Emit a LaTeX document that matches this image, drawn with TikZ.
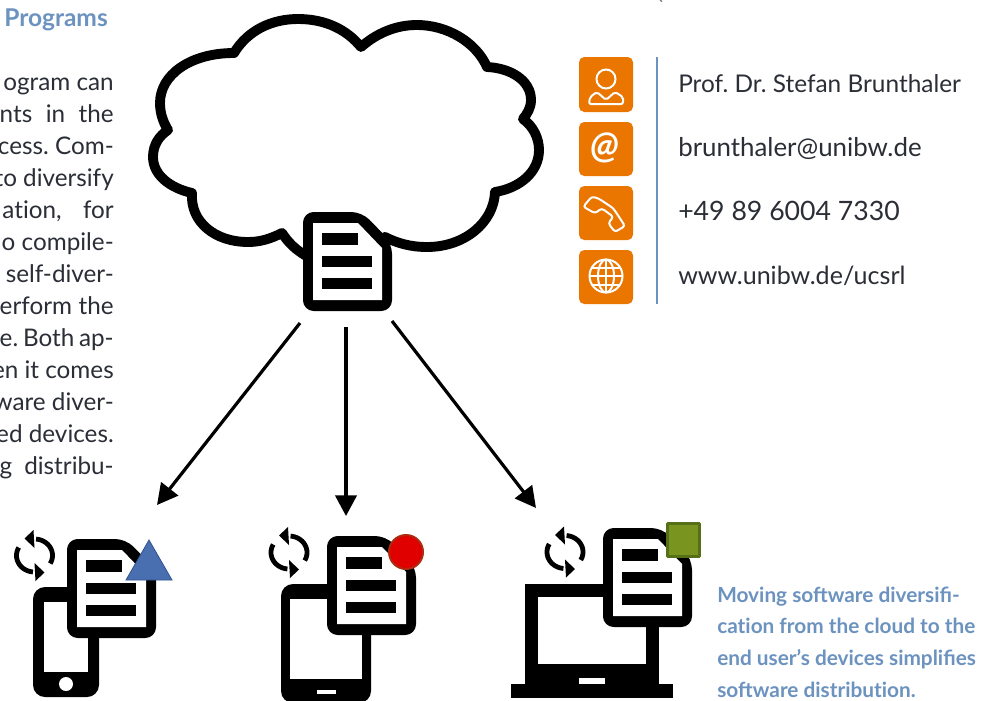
\documentclass[tikz,border=0pt]{standalone}
\usepackage{fontspec}
\setmainfont{Lato}
\usetikzlibrary{arrows.meta}
\definecolor{inkgrey}{HTML}{2B2E36}
\definecolor{uniblue}{HTML}{6C93BF}
\definecolor{uniorange}{HTML}{EA7600}
\newcommand\nolig{\kern0pt }
\tikzset{
  cloudline/.style={line width=7.4pt,line join=round,draw=black},
  flow/.style={line width=2.4pt,-{Triangle[length=15.5pt,width=16pt]}},
  tile/.style={fill=uniorange,rounded corners=4pt},
  glyph/.style={draw=white,line width=1.5pt},
  bodytext/.style={inner sep=0pt,anchor=base east,text=inkgrey,font=\fontsize{18.2}{20}\selectfont\frenchspacing},
  contact/.style={inner sep=0pt,anchor=base west,text=inkgrey,font=\fontsize{19.4}{23}\selectfont\frenchspacing},
  caption/.style={inner sep=0pt,anchor=base west,text=uniblue,font=\fontsize{15.6}{18}\selectfont\bfseries},
  docicon/.pic={
    \fill[rounded corners=8pt] (0,0) -- (59,0) -- (89,31) -- (89,99) -- (0,99) -- cycle;
    \fill[white] (10,11) -- (55,11) -- (79,36) -- (79,88) -- (10,88) -- cycle;
    \fill (19,21) rectangle (55,33);
    \fill (19,44) rectangle (69,55);
    \fill (19,66) rectangle (69,77);
  },
  syncicon/.pic={
    \draw[line width=3.6pt] plot[domain=29:-85,samples=30] ({18*cos(\x)},{16.5*sin(\x)});
    \draw[line width=3.6pt] plot[domain=209:95,samples=30] ({18*cos(\x)},{16.5*sin(\x)});
    \fill (-10,-17) -- (-1,-25.5) -- (0,-7.5) -- cycle;
    \fill (10,17) -- (1,25.5) -- (0,7.5) -- cycle;
  },
}
\begin{document}
\begin{tikzpicture}[x=0.75pt,y=-0.75pt]
\useasboundingbox (0,0) rectangle (984,700);
\clip (0,0) rectangle (984,700);
\fill[white] (0,0) rectangle (984,700);

% left column
\node[inner sep=0pt,anchor=base west,text=uniblue,font=\fontsize{18.4}{20}\selectfont\bfseries] (head) at (4,26) {Programs};
\foreach \i/\t in {
  1/{\hss ogram can},
  2/{nts\hfill in\hfill the},
  3/{\hss cess. Com-},
  4/{\hss to diversify},
  5/{\hspace{2pt}at\nolig ion,\hfill for},
  6/{\hss o compile-},
  7/{\hss self-diver-},
  8/{erform\hss\hfill the},
  9/{e.\hfill Both\hfill ap-},
  10/{\hss en it comes},
  11/{\hss ware diver-},
  12/{\hss ed devices.},
  13/{g\hfill distribu-}}{
  \pgfmathsetmacro{\yy}{58+32*\i}
  \node[bodytext] (line\i) at (114,\yy) {\hbox to 85.5pt{\t}};
}

% cloud
\draw[cloudline] (234,53)
  .. controls (248,30) and (272,19) .. (298,19)
  .. controls (326,19) and (347,30) .. (361,47)
  .. controls (377,33) and (396,25) .. (417,25)
  .. controls (447,25) and (476,42) .. (487,67)
  .. controls (510,68) and (531,80) .. (531,100)
  .. controls (531,108) and (527,114) .. (523,119)
  .. controls (533,126) and (539,138) .. (539,150)
  .. controls (539,172) and (520,188) .. (495,192)
  .. controls (494,222) and (465,247) .. (427,247)
  .. controls (410,247) and (397,243) .. (385,237)
  -- (350,265) -- (310,258)
  .. controls (295,250) and (288,242) .. (282,233)
  .. controls (270,239) and (260,242) .. (248,242)
  .. controls (215,242) and (190,222) .. (192,193)
  .. controls (170,188) and (153,175) .. (153,157)
  .. controls (153,145) and (159,136) .. (168,130)
  .. controls (163,122) and (160,113) .. (160,103)
  .. controls (160,75) and (190,53) .. (234,53) -- cycle;
\pic (srcdoc) at (303,212) {docicon};

% connectors
\coordinate (o1) at (300,323); \coordinate (t1) at (157,505);
\coordinate (o2) at (346,327); \coordinate (t2) at (346,516);
\coordinate (o3) at (392,321); \coordinate (t3) at (536,508);
\draw[flow] (o1) -- (t1);
\draw[flow] (o2) -- (t2);
\draw[flow] (o3) -- (t3);

% phone
\fill[rounded corners=9pt] (33,587) rectangle (99,697);
\fill[white] (44,602) rectangle (88,672);
\fill[white] (66,684) circle[radius=7];
\pic (doca) at (67,539) {docicon};
\pic (synca) at (34.5,555.5) {syncicon};
\filldraw[fill={rgb,255:red,74;green,111;blue,176},draw={rgb,255:red,47;green,82;blue,143},line width=0.6pt] (149,540) -- (172,580) -- (126,580) -- cycle;

% tablet
\fill[rounded corners=9pt] (281,584) rectangle (371,703);
\fill[white] (290,599) rectangle (362,679);
\fill[white] (317,690) rectangle (336,694);
\pic (docb) at (327,536) {docicon};
\pic (syncb) at (289,552.5) {syncicon};
\filldraw[fill={rgb,255:red,224;green,0;blue,0},draw={rgb,255:red,174;green,42;blue,16},line width=1.5pt] (406,552) circle[radius=17];

% laptop
\fill (525,584) rectangle (659,690);
\fill (511,684) rectangle (673,698);
\fill[white] (538,597) rectangle (646,664);
\fill[white] (579,678) rectangle (605,684);
\pic (docc) at (603,528) {docicon};
\pic (syncc) at (565,552) {syncicon};
\filldraw[fill={rgb,255:red,122;green,148;blue,32},draw={rgb,255:red,86;green,112;blue,26},line width=2.2pt,rounded corners=0.6pt] (667.5,523.5) rectangle (699.5,556.5);

% contact tiles
\fill[tile] (579,57) rectangle (633,112);
\fill[tile] (579,122) rectangle (633,176);
\fill[tile] (579,186) rectangle (633,240);
\fill[tile] (579,250) rectangle (633,304);
\draw[uniblue,line width=1.1pt] (657,57) -- (657,304);

% person
\draw[glyph] (606,79) circle[radius=9.5];
\draw[glyph,rounded corners=1.5pt] (589,104) -- (590,97) -- (597,92) -- (606,100) -- (615,92) -- (623,97) -- (623,104) -- cycle;
% at sign
\node[inner sep=0pt,text=white,font=\fontsize{28}{30}\selectfont\itshape\bfseries] (atsign) at (605,148) {@};
% handset
\draw[glyph,rounded corners=2pt] (583.3,206.7) -- (591.7,196.7) -- (598.3,198.3) -- (613.3,208.3) -- (625,226) -- (615,232) -- (608.3,223.3) -- (613.3,216.7) -- (601.7,208.3) -- (595,213.3) -- cycle;
% globe
\draw[glyph] (606,276) circle[radius=16.5];
\draw[glyph] (606,276) ellipse[x radius=8,y radius=16.5];
\draw[glyph] (606,259.5) -- (606,292.5);
\draw[glyph] (589.5,276) -- (622.5,276);
\draw[glyph] (592,267.5) -- (620,267.5);
\draw[glyph] (592,284.5) -- (620,284.5);

\node[contact] (c1) at (678,92.5) {\fontsize{18.3}{23}\selectfont Prof. Dr. Stefan Brunthaler};
\node[contact] (c2) at (678,156) {brunthaler@unibw.de};
\node[contact] (c3) at (678,220) {\fontsize{20}{23}\selectfont +49 89 6004 7330};
\node[contact] (c4) at (678,284) {\fontsize{18.8}{23}\selectfont www.unibw.de/ucsrl};

\node[caption] (m1) at (717,602) {Moving software diversifi-};
\node[caption] (m2) at (717,633.5) {cat\nolig ion from the cloud to the};
\node[caption] (m3) at (717,665) {end user’s devices simplifies};
\node[caption] (m4) at (717,697) {software distribut\nolig ion.};

\draw[gray,line width=1pt] (660,0) -- (662,1.5);
\end{tikzpicture}
\end{document}
